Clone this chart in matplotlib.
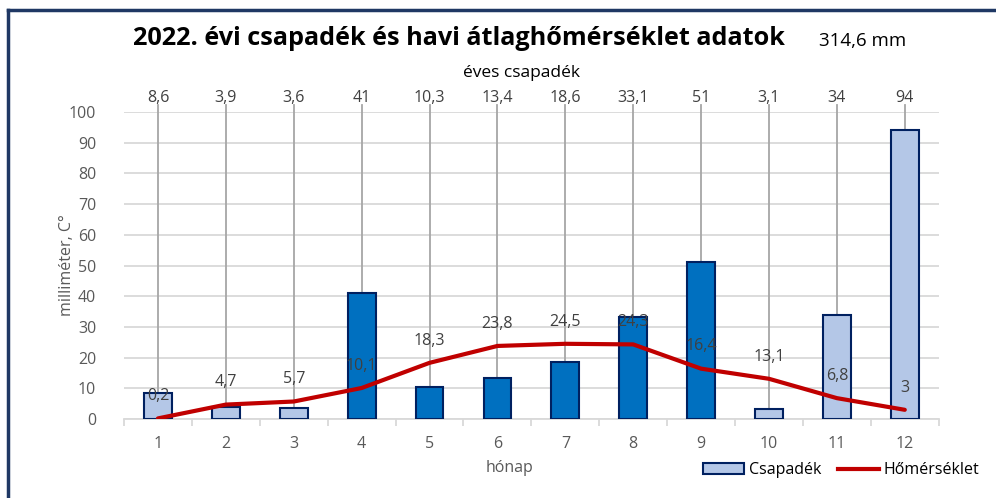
# 2022 precipitation and monthly mean temperature chart
import matplotlib
matplotlib.use('Agg')
import matplotlib.pyplot as plt
from matplotlib.patches import Patch
from matplotlib.lines import Line2D

plt.rcParams['font.family'] = ['Open Sans', 'DejaVu Sans']

months = [1, 2, 3, 4, 5, 6, 7, 8, 9, 10, 11, 12]
csapadek = [8.6, 3.9, 3.6, 41, 10.3, 13.4, 18.6, 33.1, 51, 3.1, 34, 94]
csapadek_lbl = ['8,6', '3,9', '3,6', '41', '10,3', '13,4', '18,6', '33,1', '51', '3,1', '34', '94']
homerseklet = [0.2, 4.7, 5.7, 10.1, 18.3, 23.8, 24.5, 24.3, 16.4, 13.1, 6.8, 3]
homerseklet_lbl = ['0,2', '4,7', '5,7', '10,1', '18,3', '23,8', '24,5', '24,3', '16,4', '13,1', '6,8', '3']
warm_months = [4, 5, 6, 7, 8, 9]

light = '#B4C7E7'
dark = '#0070C0'
edge = '#002060'
red = '#C00000'
gray_txt = '#595959'
lbl_txt = '#404040'

fig = plt.figure(figsize=(9.96, 4.98), dpi=100)
ax = fig.add_axes([0.1245, 0.1586, 0.818, 0.6165])

colors = [dark if m in warm_months else light for m in months]
ax.bar(months, csapadek, width=0.41, color=colors, edgecolor=edge, linewidth=1.5, zorder=3)
ax.plot(months, homerseklet, color=red, linewidth=3, zorder=4, solid_capstyle='round')

# data labels of precipitation above the plot, with leader lines
for m, v, s in zip(months, csapadek, csapadek_lbl):
    ax.plot([m, m], [v, 102.3], color='#A6A6A6', linewidth=1.3, zorder=2, clip_on=False)
    ax.text(m, 104.6, s, ha='center', va='center', fontsize=11.5, color=lbl_txt, clip_on=False)

# temperature labels
for m, v, s in zip(months, homerseklet, homerseklet_lbl):
    ax.annotate(s, (m, v), xytext=(0, 16), textcoords='offset points',
                ha='center', va='center', fontsize=11.5, color=lbl_txt, zorder=5)

ax.set_xlim(0.5, 12.5)
ax.set_ylim(0, 100)
ax.set_yticks(range(0, 101, 10))
ax.set_xticks(months)
ax.set_xticks([x + 0.5 for x in range(0, 13)], minor=True)
ax.tick_params(axis='x', which='major', length=0, pad=12, labelsize=11.5, labelcolor=gray_txt)
ax.tick_params(axis='x', which='minor', length=5, color='#D9D9D9', width=1.3)
ax.tick_params(axis='y', length=0, pad=20, labelsize=11.5, labelcolor=gray_txt)
ax.grid(axis='y', color='#D9D9D9', linewidth=1.3, zorder=0)
for side in ['top', 'right', 'left']:
    ax.spines[side].set_visible(False)
ax.spines['bottom'].set_color('#D9D9D9')
ax.spines['bottom'].set_linewidth(1.3)

fig.text(0.461, 0.922, '2022. évi csapadék és havi átlaghőmérséklet adatok',
         ha='center', va='center', fontsize=18.2, fontweight='bold', color='black')
fig.text(0.866, 0.918, '314,6 mm', ha='center', va='center', fontsize=13.5, color='black')
fig.text(0.524, 0.853, 'éves csapadék', ha='center', va='center', fontsize=12.5, color='black')
fig.text(0.067, 0.468, 'milliméter, C°', ha='center', va='center', rotation=90,
         fontsize=11.5, color=gray_txt)
fig.text(0.512, 0.06, 'hónap', ha='center', va='center', fontsize=11.5, color=gray_txt)

handles = [Patch(facecolor=light, edgecolor=edge, linewidth=1.5),
           Line2D([0], [0], color=red, linewidth=3)]
fig.legend(handles, ['Csapadék', 'Hőmérséklet'], loc='center right',
           bbox_to_anchor=(0.998, 0.056), ncol=2, frameon=False, fontsize=11.5,
           handlelength=2.6, handletextpad=0.3, columnspacing=1.0)

# dark frame on left and top
fig.add_artist(Line2D([0.008, 0.008], [0, 0.98], color='#1F3864', linewidth=2.5,
                      transform=fig.transFigure))
fig.add_artist(Line2D([0.008, 1.0], [0.98, 0.98], color='#1F3864', linewidth=2.5,
                      transform=fig.transFigure))

fig.savefig('out.png', dpi=100)
